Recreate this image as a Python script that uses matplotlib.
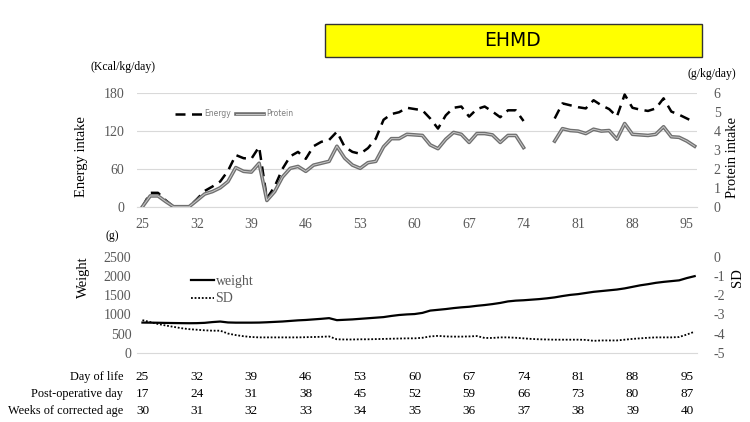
"""EHMD intake / growth chart"""
import numpy as np
import matplotlib.pyplot as plt
import matplotlib.patheffects as pe
from matplotlib.patches import Rectangle

plt.rcParams['font.family'] = ['Liberation Serif', 'DejaVu Serif']
plt.rcParams['axes.unicode_minus'] = False

nan = np.nan
days = np.arange(25, 97)

energy = [0, 22, 22, 10, 0, 0, 0, 12, 25, 32, 40, 57, 82, 77, 76, 95, 13, 32, 60, 80,
          87, 76, 96, 103, 106, 119, 95, 87, 84, 93, 108, 138, 147, 150, 157, 155, 153, 140, 124, 145,
          157, 159, 143, 155, 159, 151, 142, 153, 153, 136, nan, nan, nan, 140, 164, 161, 158, 156, 169, 161,
          155, 143, 178, 157, 154, 152, 156, 172, 151, 146, 140, 134]

protein = [0, 0.57, 0.57, 0.27, 0, 0, 0, 0.33, 0.67, 0.8, 1.0, 1.33, 2.07, 1.87, 1.83, 2.3, 0.33, 0.8, 1.57, 2.03,
           2.13, 1.87, 2.2, 2.3, 2.4, 3.2, 2.57, 2.2, 2.03, 2.33, 2.4, 3.17, 3.6, 3.6, 3.83, 3.8, 3.77, 3.27, 3.07, 3.57,
           3.93, 3.83, 3.4, 3.87, 3.87, 3.8, 3.4, 3.77, 3.77, 3.13, nan, nan, nan, 3.47, 4.13, 4.03, 4.0, 3.87, 4.1, 4.0,
           4.03, 3.57, 4.4, 3.83, 3.8, 3.77, 3.83, 4.23, 3.7, 3.67, 3.47, 3.2]

weight = [787, 785, 782, 778, 775, 772, 770, 772, 780, 800, 814, 790, 785, 785, 785, 787, 795, 805, 815, 830,
          845, 855, 870, 885, 903, 850, 860, 870, 885, 900, 915, 930, 960, 985, 1000, 1010, 1040, 1100, 1120, 1140,
          1165, 1185, 1200, 1225, 1245, 1270, 1300, 1340, 1360, 1370, 1385, 1400, 1420, 1445, 1480, 1510, 1530, 1560, 1590, 1610,
          1630, 1650, 1680, 1720, 1760, 1790, 1825, 1850, 1870, 1890, 1950, 2000]

sd = [-3.30, -3.40, -3.50, -3.58, -3.65, -3.72, -3.77, -3.80, -3.83, -3.85, -3.85, -4.00, -4.08, -4.14, -4.18, -4.20, -4.20, -4.20, -4.20, -4.20,
      -4.20, -4.19, -4.18, -4.17, -4.15, -4.30, -4.31, -4.31, -4.30, -4.30, -4.29, -4.28, -4.27, -4.26, -4.25, -4.25, -4.22, -4.15, -4.12, -4.15,
      -4.16, -4.16, -4.15, -4.13, -4.23, -4.23, -4.20, -4.20, -4.22, -4.25, -4.28, -4.30, -4.31, -4.32, -4.32, -4.32, -4.32, -4.33, -4.38, -4.36,
      -4.36, -4.36, -4.32, -4.28, -4.25, -4.22, -4.20, -4.20, -4.20, -4.18, -4.05, -3.90]

tick_days = [25, 32, 39, 46, 53, 60, 67, 74, 81, 88, 95]
post_op = [17, 24, 31, 38, 45, 52, 59, 66, 73, 80, 87]
weeks = [30, 31, 32, 33, 34, 35, 36, 37, 38, 39, 40]

grey = '#595959'
grid = '#d9d9d9'

fig = plt.figure(figsize=(7.5, 4.22), dpi=100)

# title box
fig.patches.append(Rectangle((325 / 750, 1 - 57 / 422), 377 / 750, 33 / 422, transform=fig.transFigure,
                             facecolor='#ffff00', edgecolor='#333333', lw=1.0))
fig.text(513 / 750, 1 - 40 / 422, 'EHMD', family='DejaVu Sans', fontsize=13.5, ha='center', va='center')

# top panel: intake
ax1 = fig.add_axes([137 / 750, 1 - 206.7 / 422, 560 / 750, 113.4 / 422])
ax1r = ax1.twinx()
ax1.plot(days, energy, color='black', lw=1.8, dashes=(4, 2.6), label='Energy')
ax1r.plot(days, protein, color='#c8c8c8', lw=0.7, label='Protein',
          path_effects=[pe.Stroke(linewidth=2.6, foreground='#707070'), pe.Normal()])
ax1.set_xlim(24.3, 96.3)
ax1.set_ylim(0, 180)
ax1r.set_ylim(0, 6)
ax1.set_yticks([0, 60, 120, 180])
ax1r.set_yticks(range(7))
ax1.set_xticks(tick_days)
ax1.yaxis.grid(True, color=grid, lw=0.8)
ax1.set_axisbelow(True)
for a in (ax1, ax1r):
    for s in a.spines.values():
        s.set_visible(False)
    a.tick_params(length=0, labelsize=10, labelcolor=grey)
ax1.spines['bottom'].set_visible(True)
ax1.spines['bottom'].set_color(grid)
ax1.tick_params(axis='y', pad=9)
ax1.tick_params(axis='x', pad=8)
ax1r.tick_params(axis='y', pad=12)

h1, l1 = ax1.get_legend_handles_labels()
h2, l2 = ax1r.get_legend_handles_labels()
fig.legend(h1 + h2, l1 + l2, loc='center left', bbox_to_anchor=(168 / 750, 1 - 114 / 422), ncol=2,
           frameon=False, prop={'family': 'DejaVu Sans', 'size': 5.5}, labelcolor='#7f7f7f',
           handlelength=3.6, handletextpad=0.3, columnspacing=0.6)

fig.text(82 / 750, 1 - 157 / 422, 'Energy intake', rotation=90, ha='center', va='center', fontsize=10.5)
fig.text(733 / 750, 1 - 157 / 422, 'Protein intake', rotation=90, ha='center', va='center', fontsize=10.5)
fig.text(123 / 750, 1 - 67 / 422, '(Kcal/kg/day)', ha='center', va='center', fontsize=8.5)
fig.text(712 / 750, 1 - 74 / 422, '(g/kg/day)', ha='center', va='center', fontsize=8.5)

# bottom panel: growth
ax2 = fig.add_axes([137 / 750, 1 - 352.7 / 422, 560 / 750, 95.7 / 422])
ax2r = ax2.twinx()
ax2.plot(days, weight, color='black', lw=1.6, label='weight')
ax2r.plot(days, sd, color='black', lw=1.3, ls=(0, (1, 1)), label='SD')
ax2.set_xlim(24.3, 96.3)
ax2.set_ylim(0, 2500)
ax2r.set_ylim(-5, 0)
ax2.set_yticks(range(0, 2501, 500))
ax2r.set_yticks(range(-5, 1))
ax2.set_xticks([])
for a in (ax2, ax2r):
    for s in a.spines.values():
        s.set_visible(False)
    a.tick_params(length=0, labelsize=10, labelcolor=grey)
ax2.spines['bottom'].set_visible(True)
ax2.spines['bottom'].set_color(grid)
ax2.tick_params(axis='y', pad=4)
ax2r.tick_params(axis='y', pad=12)

h1, l1 = ax2.get_legend_handles_labels()
h2, l2 = ax2r.get_legend_handles_labels()
fig.legend(h1 + h2, l1 + l2, loc='upper left', bbox_to_anchor=(178 / 750, 1 - 262 / 422), ncol=1,
           frameon=False, fontsize=10, labelcolor=grey, handlelength=1.7, handletextpad=0.1,
           labelspacing=0.35)

fig.text(83 / 750, 1 - 277 / 422, 'Weight', rotation=90, ha='center', va='center', fontsize=10.5)
fig.text(737 / 750, 1 - 278 / 422, 'SD', rotation=90, ha='center', va='center', fontsize=10.5)
fig.text(112 / 750, 1 - 236 / 422, '(g)', ha='center', va='center', fontsize=8.5)

# day table under the charts
rows = [('Day of life', tick_days, 377), ('Post-operative day', post_op, 394),
        ('Weeks of corrected age', weeks, 411)]
pos = ax2.get_position()
for name, vals, ypx in rows:
    yf = 1 - ypx / 422
    ya = (yf - pos.y0) / pos.height
    fig.text(123 / 750, yf, name, ha='right', va='center', fontsize=8.8)
    for d, v in zip(tick_days, vals):
        ax2.text(d, ya, str(v), transform=ax2.get_xaxis_transform(), ha='center', va='center',
                 fontsize=9.5, clip_on=False)

fig.savefig('out.png', dpi=100)
